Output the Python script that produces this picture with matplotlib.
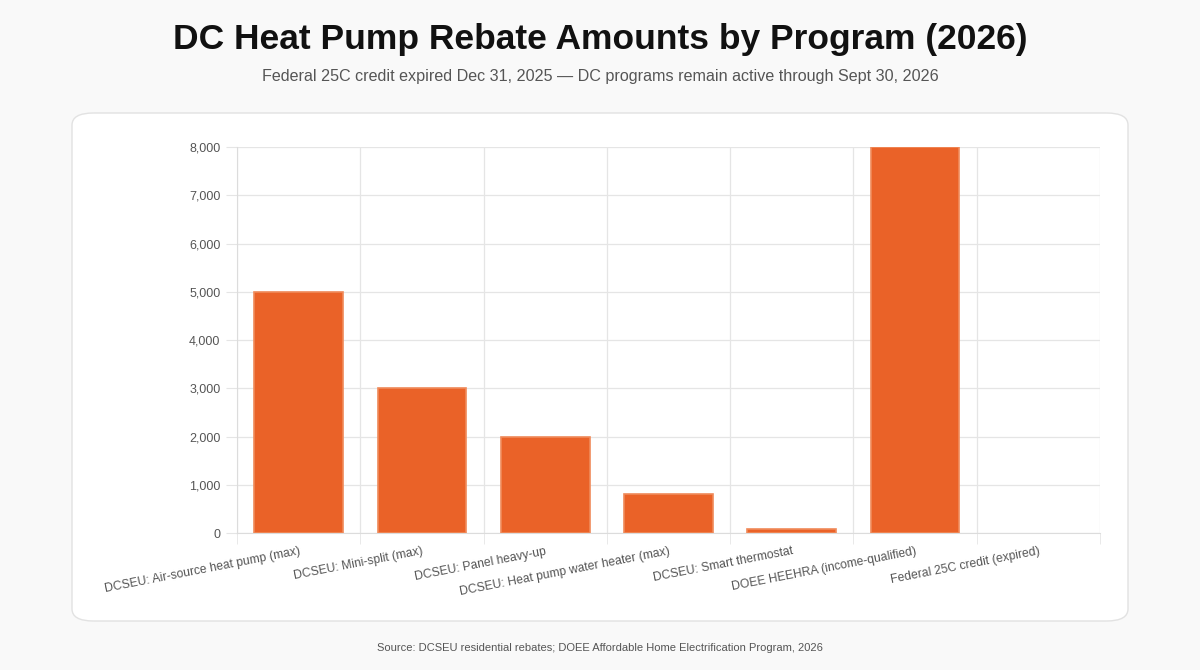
import matplotlib.pyplot as plt
import matplotlib
from matplotlib.patches import FancyBboxPatch
from matplotlib.ticker import FuncFormatter, MultipleLocator

matplotlib.rcParams['font.family'] = ['Liberation Sans', 'DejaVu Sans']

# data
programs = [
    'DCSEU: Air-source heat pump (max)',
    'DCSEU: Mini-split (max)',
    'DCSEU: Panel heavy-up',
    'DCSEU: Heat pump water heater (max)',
    'DCSEU: Smart thermostat',
    'DOEE HEEHRA (income-qualified)',
    'Federal 25C credit (expired)',
]
rebates = [5000, 3000, 2000, 800, 75, 8000, 0]

title = 'DC Heat Pump Rebate Amounts by Program (2026)'
subtitle = 'Federal 25C credit expired Dec 31, 2025 \u2014 DC programs remain active through Sept 30, 2026'
source = 'Source: DCSEU residential rebates; DOEE Affordable Home Electrification Program, 2026'

W, H = 1200, 670
fig = plt.figure(figsize=(W / 100, H / 100), dpi=100)
fig.patch.set_facecolor('#f9f9f9')

# white card behind the axes
card = FancyBboxPatch((72 / W, (H - 621) / H), (1128 - 72) / W, (621 - 113) / H,
                      boxstyle='round,pad=0,rounding_size=0.018',
                      transform=fig.transFigure, facecolor='white',
                      edgecolor='#e2e2e2', linewidth=1, zorder=-5)
fig.patches.append(card)

fig.text(0.5, 1 - 40 / H, title, ha='center', va='center', fontsize=25.5,
         fontweight='bold', color='#111111')
fig.text(0.5, 1 - 76 / H, subtitle, ha='center', va='center', fontsize=11.6,
         color='#555555')
fig.text(0.5, 1 - 648 / H, source, ha='center', va='center', fontsize=8,
         color='#555555')

left, right, top, bottom = 237, 1100, 147, 533
ax = fig.add_axes([left / W, 1 - bottom / H, (right - left) / W, (bottom - top) / H])
ax.set_facecolor('none')

x = range(len(programs))
bars = ax.bar(x, rebates, width=0.72, color='#ea6228', edgecolor='#f08a5a',
              linewidth=1.2, zorder=3)
for bar, v in zip(bars, rebates):
    if v == 0:
        bar.set_visible(False)

ax.set_xlim(-0.5, len(programs) - 0.5)
ax.set_ylim(0, 8000)
ax.yaxis.set_major_locator(MultipleLocator(1000))
ax.yaxis.set_major_formatter(FuncFormatter(lambda v, p: f'{int(v):,}'))

# vertical grid at category boundaries
for b in range(len(programs) + 1):
    ax.axvline(b - 0.5, color='#e5e5e5', linewidth=0.9, zorder=1)
ax.grid(axis='y', color='#e5e5e5', linewidth=0.9, zorder=1)

for s in ['top', 'right']:
    ax.spines[s].set_visible(False)
ax.spines['left'].set_color('#dcdcdc')
ax.spines['bottom'].set_color('#dcdcdc')

ax.set_xticks([b - 0.5 for b in range(len(programs) + 1)], minor=True)
ax.tick_params(axis='x', which='minor', length=8, color='#e5e5e5')
ax.set_xticks(list(x))
ax.set_xticklabels(programs, rotation=11, ha='right', rotation_mode='anchor',
                   fontsize=8.7, color='#555555')
ax.tick_params(axis='x', which='major', length=0, pad=9)
ax.tick_params(axis='y', length=8, color='#e5e5e5', labelsize=9,
               labelcolor='#555555', pad=4)

fig.savefig('out.png', dpi=100, facecolor=fig.get_facecolor())
